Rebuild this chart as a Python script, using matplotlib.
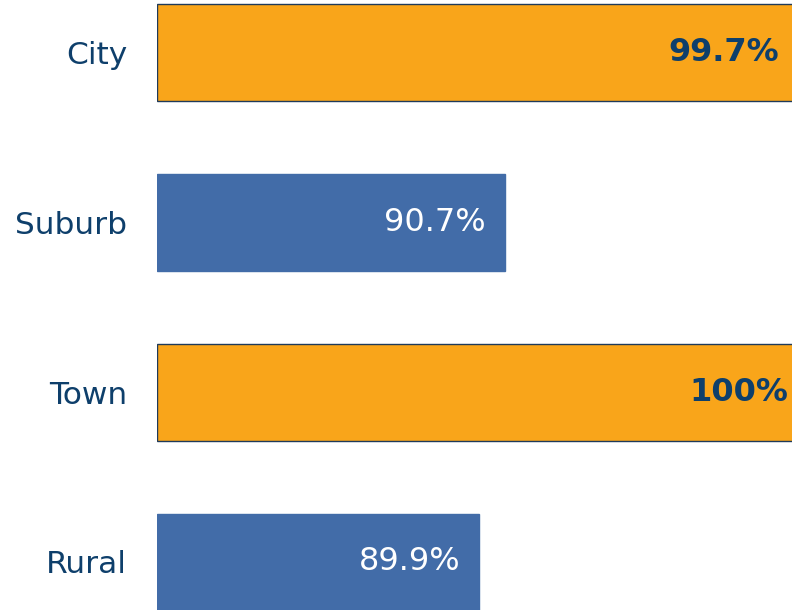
import matplotlib
matplotlib.use('Agg')
from matplotlib import pyplot as plt

# Chart data
categories = ['City', 'Suburb', 'Town', 'Rural']
values = [99.7, 90.7, 100, 89.9]
value_labels = ['99.7%', '90.7%', '100%', '89.9%']
highlight = [True, False, True, False]

ORANGE = '#F9A51A'
BLUE = '#426CA8'
NAVY = '#0E3F6B'

fig = plt.figure(figsize=(7.92, 6.10), dpi=100)
# axes run past the right edge so the 100% bars are cut off like the original
ax = fig.add_axes([157 / 792, 0, 650 / 792, 1])

ypos = range(len(categories))
colors = [ORANGE if h else BLUE for h in highlight]
edges = ['#1F3A5A' if h else BLUE for h in highlight]
ax.barh(ypos, [v - 80 for v in values], left=80, height=0.57,
        color=colors, edgecolor=edges, linewidth=1.0)

ax.set_xlim(80, 100)
ax.set_ylim(3.283, -0.309)

ax.set_yticks(list(ypos))
ax.set_yticklabels(categories, fontsize=22.5, color=NAVY)
ax.tick_params(axis='y', length=0, pad=21.5)
ax.set_xticks([])
for s in ax.spines.values():
    s.set_visible(False)

for i, (v, lab, h) in enumerate(zip(values, value_labels, highlight)):
    ax.annotate(lab, (v, i), xytext=(-13.5, 0), textcoords='offset points',
                ha='right', va='center', fontsize=23,
                color=NAVY if h else 'white',
                fontweight='bold' if h else 'normal')

fig.savefig('out.png', dpi=100)
